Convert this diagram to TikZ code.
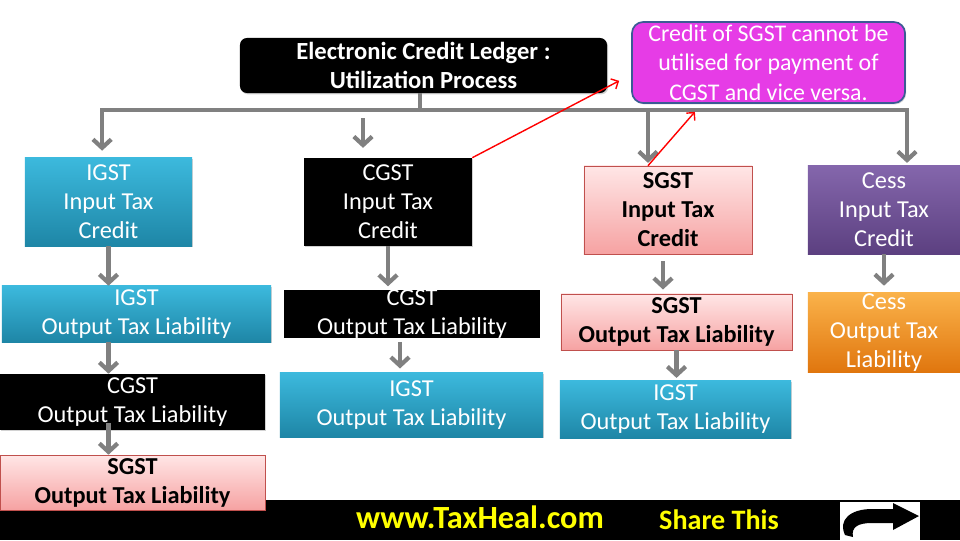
\documentclass[tikz,border=0pt]{standalone}
\usepackage{fontspec}
\setmainfont{Carlito}
\usetikzlibrary{arrows.meta,shadows}
\definecolor{igsttop}{HTML}{3CB9DD}
\definecolor{igstbot}{HTML}{1E86A6}
\definecolor{sgsttop}{HTML}{FFE6E6}
\definecolor{sgstbot}{HTML}{F6A2A2}
\definecolor{sgstline}{HTML}{C0504D}
\definecolor{cesstop}{HTML}{8466AC}
\definecolor{cessbot}{HTML}{5C4080}
\definecolor{cesstop2}{HTML}{FAB24A}
\definecolor{cessbot2}{HTML}{E0760E}
\definecolor{notefill}{HTML}{E63CE6}
\definecolor{noteline}{HTML}{3B5B94}
\definecolor{flowgray}{HTML}{808080}
\definecolor{siteyellow}{HTML}{FFFF00}
\begin{document}
\begin{tikzpicture}[x=0.025cm,y=-0.025cm,
  box/.style={rectangle,inner sep=0pt,align=center,font=\fontsize{17.3}{20.6}\selectfont,
    drop shadow={opacity=0.35,shadow xshift=0.8pt,shadow yshift=-1pt}},
  blue box/.style={box,top color=igsttop,bottom color=igstbot,text=white},
  black box/.style={box,fill=black,text=white},
  pink box/.style={box,top color=sgsttop,bottom color=sgstbot,draw=sgstline,text=black,
    font=\fontsize{17.3}{20.6}\selectfont\bfseries},
  purple box/.style={box,top color=cesstop,bottom color=cessbot,text=white},
  orange box/.style={box,top color=cesstop2,bottom color=cessbot2,text=white},
  itc/.style={minimum height=2.2cm},
  flow/.style={draw=flowgray,line width=3pt,-{Straight Barb[length=6pt,width=13pt]}},
  note arrow/.style={draw=red,line width=1pt,-{Straight Barb[length=4pt,width=8pt]}}]

  \fill[white] (0,0) rectangle (960,540);
  \useasboundingbox (0,0) rectangle (960,540);

  \node[black box,rounded corners=5pt,minimum width=9.175cm,minimum height=1.375cm,
    font=\fontsize{17.5}{20.6}\selectfont\bfseries] (title) at (423.5,65.5)
    {Electronic Credit Ledger :\\Utilization Process};
  \node[box,fill=notefill,draw=noteline,line width=1.2pt,rounded corners=8pt,text=white,
    minimum width=6.825cm,minimum height=2.025cm,font=\fontsize{17}{21}\selectfont] (note)
    at (768.5,62.5) {Credit of SGST cannot be\\utilised for payment of\\CGST and vice versa.};

  \node[blue box,itc,minimum width=4.175cm] (igstitc) at (108.5,202) {IGST\\Input Tax\\Credit};
  \node[black box,itc,minimum width=4.2cm] (cgstitc) at (388,202) {CGST\\Input Tax\\Credit};
  \node[pink box,itc,minimum width=4.2cm] (sgstitc) at (668,210) {SGST\\Input Tax\\Credit};
  \node[purple box,itc,minimum width=3.8cm] (cessitc) at (884,210) {Cess\\Input Tax\\Credit};

  \node[blue box,minimum width=6.725cm,minimum height=1.4cm] (igstotl) at (136.5,314)
    {IGST\\Output Tax Liability};
  \node[black box,draw=white,line width=2.5pt,minimum width=6.5cm,minimum height=1.3cm] (cgstotl)
    at (412,314) {CGST\\Output Tax Liability};
  \node[pink box,minimum width=5.775cm,minimum height=1.4cm] (sgstotl) at (676.5,322)
    {SGST\\Output Tax Liability};
  \node[orange box,minimum width=3.8cm,minimum height=1.975cm] (cessotl) at (884,332.5)
    {Cess\\Output Tax\\Liability};

  \node[blue box,minimum width=6.575cm,minimum height=1.6cm] (cgstigst) at (411.5,405)
    {IGST\\Output Tax Liability};
  \node[blue box,minimum width=5.775cm,minimum height=1.425cm] (sgstigst) at (675.5,409.5)
    {IGST\\Output Tax Liability};
  \node[black box,minimum width=6.625cm,minimum height=1.4cm] (igstcgst) at (132.5,402)
    {CGST\\Output Tax Liability};

  \fill[black] (0,500) rectangle (960,540);
  \node[pink box,minimum width=6.625cm,minimum height=1.375cm] (igstsgst) at (132.5,482.5)
    {SGST\\Output Tax Liability};

  \coordinate (hub) at (420,110);
  \coordinate (cgsttop) at (363,118);
  \draw[flowgray,line width=3pt] (hub |- title.south) -- (hub);
  \draw[flow,shorten >=5pt] (hub) -| ([xshift=-0.16cm]igstitc.north);
  \draw[flow,shorten >=7pt] (cgsttop) -- (cgsttop |- cgstitc.north);
  \draw[flow,shorten >=2pt] (hub) -| ([xshift=-0.5cm]sgstitc.north);
  \draw[flow,shorten >=2pt] (hub) -| ([xshift=0.575cm]cessitc.north);

  \draw[flow] (igstitc.south) -- (igstitc.south |- igstotl.north);
  \draw[flow] (igstitc.south |- igstotl.south) -- (igstitc.south |- igstcgst.north);
  \draw[flow,shorten <=-5pt] (igstitc.south |- igstcgst.south) -- (igstitc.south |- igstsgst.north);
  \draw[flow] (cgstitc.south) -- (cgstitc.south |- cgstotl.north);
  \draw[flow,shorten >=3pt] ([xshift=-0.3cm]cgstotl.south) -- ([xshift=-0.3cm]cgstotl.south |- cgstigst.north);
  \draw[flow,shorten <=5pt,shorten >=3pt] ([xshift=-0.125cm]sgstitc.south) -- ([xshift=-0.125cm]sgstitc.south |- sgstotl.north);
  \draw[flow,shorten >=2pt] (sgstotl.south) -- (sgstotl.south |- sgstigst.north);
  \draw[flow,shorten >=5pt] (cessitc.south) -- (cessitc.south |- cessotl.north);

  \draw[note arrow] (cgstitc.north east) -- ([xshift=-0.3cm,yshift=0.575cm]note.south west);
  \draw[note arrow] ([xshift=-0.5cm]sgstitc.north) -- ([xshift=-1.84cm,yshift=-0.2cm]note.south);

  \node[text=siteyellow,font=\fontsize{23}{25}\selectfont\bfseries] (site) at (480,517) {www.TaxHeal.com};
  \node[text=siteyellow,font=\fontsize{20}{22}\selectfont\bfseries] (share) at (719,520) {Share This};
  \fill[white] (840,502) rectangle (920,540);
  \fill[black] (893,509) -- (893,503) -- (919,516) -- (893,530) -- (893,523) -- (872,523)
    .. controls (858,523) and (851,527) .. (853,537) -- (845,535)
    .. controls (838,520) and (850,509) .. (872,509) -- cycle;
\end{tikzpicture}
\end{document}
